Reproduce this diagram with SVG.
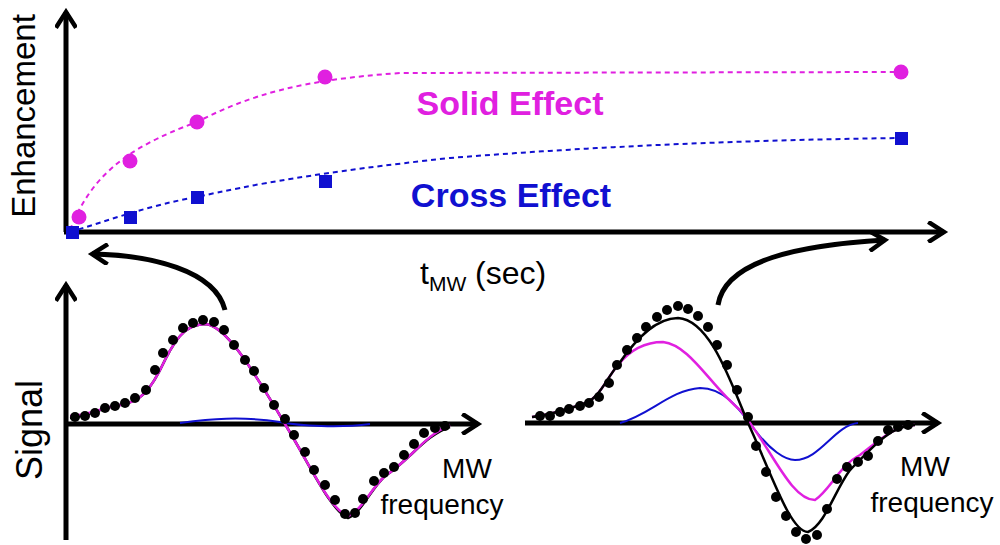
<svg xmlns="http://www.w3.org/2000/svg" width="1000" height="545" viewBox="0 0 1000 545">
<style>
.ax{stroke:#000;stroke-width:5;fill:none}
.t{font-family:"Liberation Sans",Arial,sans-serif;fill:#000}
.b{font-weight:bold}
.d{fill:#000}
.m{stroke:#e020e0;fill:none;stroke-width:2.5}
.bl{stroke:#1010d0;fill:none;stroke-width:2}
.k{stroke:#000;fill:none;stroke-width:2.5}
</style>
<defs>
<marker id="ar" viewBox="0 0 10 10" refX="8" refY="5" markerWidth="4.5" markerHeight="4.5" orient="auto" markerUnits="strokeWidth"><path d="M1,0.5 L8,5 L1,9.5" fill="none" stroke="#000" stroke-width="2"/></marker>
</defs>
<rect width="1000" height="545" fill="#fff"/>
<g id="top-plot">
<path class="ax" d="M66,232 V12" marker-end="url(#ar)"/>
<path class="ax" d="M64,232 H944" marker-end="url(#ar)"/>
<path d="M70,230 C90,180 120,150 197,122 C250,95 300,80 400,73 L901,72" stroke="#e020e0" stroke-width="2" stroke-dasharray="5,4" fill="none"/>
<path d="M70,232 C110,220 150,205 197,197 C250,185 320,172 450,158 C600,146 750,140 901,138" stroke="#1010d0" stroke-width="2" stroke-dasharray="5,4" fill="none"/>
<g fill="#e020e0"><circle cx="79" cy="217" r="7.5"/><circle cx="130" cy="161" r="7.5"/><circle cx="197" cy="122" r="7.5"/><circle cx="325" cy="77" r="7.5"/><circle cx="901" cy="72" r="7.5"/></g>
<g fill="#1010d0"><rect x="66" y="226" width="13" height="13"/><rect x="124" y="211" width="13" height="13"/><rect x="191" y="191" width="13" height="13"/><rect x="319" y="175" width="13" height="13"/><rect x="895" y="132" width="13" height="13"/></g>
<text class="t" font-size="33" transform="translate(35,116) rotate(-90)" text-anchor="middle">Enhancement</text>
<text class="t b" font-size="34" x="510" y="115" text-anchor="middle" style="fill:#e020e0">Solid Effect</text>
<text class="t b" font-size="34" x="511" y="207" text-anchor="middle" style="fill:#1010d0">Cross Effect</text>
<text class="t" font-size="32" x="420" y="284">t<tspan font-size="21" dy="7">MW</tspan><tspan dy="-7"> (sec)</tspan></text>
</g>
<g id="connectors">
<path class="ax" d="M225,310 C215,270 150,255 92,254" marker-end="url(#ar)"/>
<path class="ax" d="M718,305 C725,260 800,245 885,240" marker-end="url(#ar)"/>
</g>
<g id="left-plot">
<path class="ax" d="M66,540 V285" marker-end="url(#ar)"/>
<path class="ax" d="M64,424 H478" marker-end="url(#ar)"/>
<text class="t" font-size="36" transform="translate(42,430) rotate(-90)" text-anchor="middle">Signal</text>
<path class="bl" d="M180,423 C210,419 240,416 280,422 C300,426 340,428 370,424"/>
<path class="k" d="M70,418 C90,416 100,408 120,405 C140,402 150,392 165,360 C180,330 190,325 205,324 C225,325 250,365 285,424 C310,465 330,510 348,518 C362,512 370,490 385,476 C410,460 425,435 450,427"/>
<path class="m" d="M70,416 C90,415 100,408 120,405 C140,402 150,392 165,360 C180,330 190,325 205,324 C225,325 250,365 285,424 C310,465 330,510 348,516 C362,510 370,490 385,476 C410,460 425,435 450,425"/>
<g class="d">
<circle cx="75" cy="417" r="5"/><circle cx="85" cy="416" r="5"/><circle cx="95" cy="413" r="5"/><circle cx="105" cy="408" r="5"/><circle cx="115" cy="406" r="5"/><circle cx="125" cy="403" r="5"/><circle cx="135" cy="398" r="5"/><circle cx="146" cy="390" r="5"/><circle cx="155" cy="370" r="5"/><circle cx="163" cy="353" r="5"/><circle cx="173" cy="340" r="5"/><circle cx="183" cy="328" r="5"/><circle cx="193" cy="323" r="5"/><circle cx="203" cy="320" r="5"/><circle cx="214" cy="322" r="5"/><circle cx="224" cy="330" r="5"/><circle cx="234" cy="345" r="5"/><circle cx="245" cy="360" r="5"/><circle cx="254" cy="371" r="5"/><circle cx="264" cy="388" r="5"/><circle cx="274" cy="405" r="5"/><circle cx="285" cy="419" r="5"/><circle cx="294" cy="435" r="5"/><circle cx="305" cy="452" r="5"/><circle cx="314" cy="470" r="5"/><circle cx="325" cy="485" r="5"/><circle cx="335" cy="500" r="5"/><circle cx="345" cy="514" r="5"/><circle cx="355" cy="513" r="5"/><circle cx="363" cy="499" r="5"/><circle cx="374" cy="481" r="5"/><circle cx="384" cy="473" r="5"/><circle cx="394" cy="467" r="5"/><circle cx="404" cy="455" r="5"/><circle cx="414" cy="444" r="5"/><circle cx="424" cy="433" r="5"/><circle cx="435" cy="428" r="5"/><circle cx="445" cy="426" r="5"/>
</g>
<text class="t" font-size="28" x="467" y="478" text-anchor="middle">MW</text>
<text class="t" font-size="28" x="442" y="514" text-anchor="middle">frequency</text>
</g>
<g id="right-plot">
<path class="ax" d="M525,423 H938" marker-end="url(#ar)"/>
<path class="bl" d="M620,423 C650,415 670,390 700,388 C725,388 740,410 755,430 C770,450 785,460 795,460 C820,460 835,425 858,423"/>
<path class="m" d="M532,417 C550,415 565,410 580,405 C600,400 605,380 618,365 C630,350 645,342 663,342 C690,345 710,385 740,410 C770,445 790,500 815,500 C830,490 840,465 860,455 C880,440 895,425 915,425"/>
<path class="k" d="M532,417 C550,415 565,410 580,405 C600,400 605,380 618,365 C635,340 655,318 678,318 C710,320 730,380 748,423 C770,470 790,532 808,532 C825,525 835,490 850,470 C870,450 890,425 915,425"/>
<g class="d">
<circle cx="540" cy="416" r="5"/><circle cx="550" cy="416" r="5"/><circle cx="560" cy="412" r="5"/><circle cx="569" cy="409" r="5"/><circle cx="580" cy="406" r="5"/><circle cx="589" cy="403" r="5"/><circle cx="599" cy="397" r="5"/><circle cx="609" cy="383" r="5"/><circle cx="617" cy="365" r="5"/><circle cx="627" cy="350" r="5"/><circle cx="637" cy="338" r="5"/><circle cx="646" cy="327" r="5"/><circle cx="657" cy="317" r="5"/><circle cx="667" cy="310" r="5"/><circle cx="678" cy="306" r="5"/><circle cx="688" cy="309" r="5"/><circle cx="698" cy="316" r="5"/><circle cx="708" cy="327" r="5"/><circle cx="717" cy="345" r="5"/><circle cx="727" cy="365" r="5"/><circle cx="737" cy="390" r="5"/><circle cx="748" cy="417" r="5"/><circle cx="756" cy="446" r="5"/><circle cx="766" cy="472" r="5"/><circle cx="776" cy="497" r="5"/><circle cx="786" cy="516" r="5"/><circle cx="796" cy="532" r="5"/><circle cx="806" cy="539" r="5"/><circle cx="817" cy="535" r="5"/><circle cx="827" cy="509" r="5"/><circle cx="837" cy="479" r="5"/><circle cx="847" cy="467" r="5"/><circle cx="858" cy="462" r="5"/><circle cx="868" cy="456" r="5"/><circle cx="878" cy="441" r="5"/><circle cx="888" cy="430" r="5"/><circle cx="898" cy="427" r="5"/><circle cx="908" cy="425" r="5"/>
</g>
<text class="t" font-size="28" x="925" y="476" text-anchor="middle">MW</text>
<text class="t" font-size="28" x="932" y="512" text-anchor="middle">frequency</text>
</g>
</svg>
